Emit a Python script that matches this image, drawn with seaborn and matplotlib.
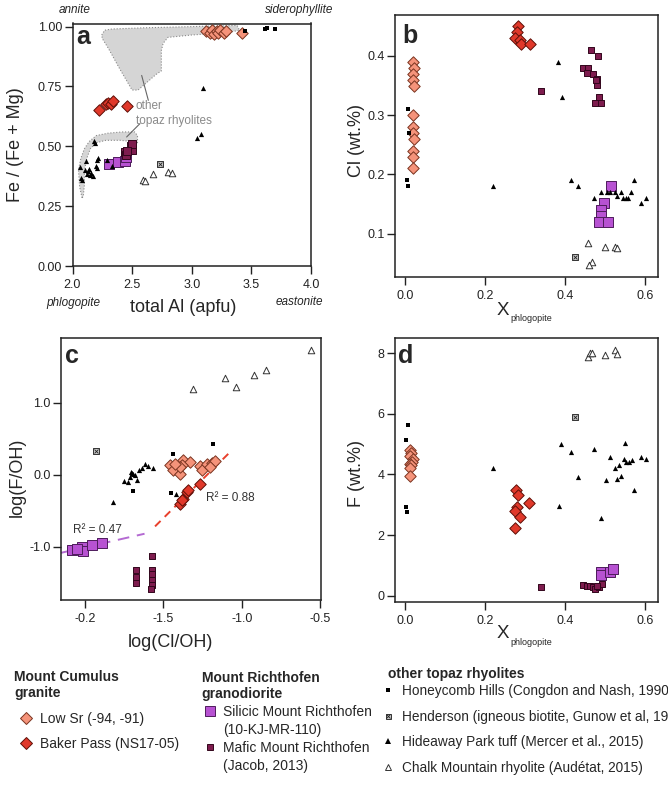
'''
mica chemistry, 4 panels (a-d) + legend
'''
import numpy as np
import pandas as pd
import matplotlib
matplotlib.use('Agg')
import matplotlib.pyplot as plt
from matplotlib.lines import Line2D
from matplotlib.ticker import FormatStrFormatter
import seaborn as sns

# ---------------- panel a : Fe/(Fe+Mg) vs total Al ----------------
a_lowsr_x = [3.12, 3.15, 3.17, 3.19, 3.21, 3.22, 3.24, 3.27, 3.29, 3.42]
a_lowsr_y = [0.98, 0.975, 0.985, 0.97, 0.98, 0.975, 0.985, 0.975, 0.98, 0.975]
a_baker_x = [2.22, 2.28, 2.30, 2.32, 2.34, 2.455]
a_baker_y = [0.65, 0.675, 0.68, 0.677, 0.688, 0.667]
a_sil_x = [2.31, 2.38, 2.44, 2.45]
a_sil_y = [0.425, 0.435, 0.44, 0.455]
a_maf_x = [2.44, 2.45, 2.49, 2.50, 2.50, 2.46]
a_maf_y = [0.475, 0.465, 0.50, 0.485, 0.51, 0.48]
a_honey_x = [3.447, 3.614, 3.628, 3.698]
a_honey_y = [0.98, 0.99, 0.993, 0.99]
a_hend_x = [2.73]
a_hend_y = [0.428]
a_hide_x = [2.063, 2.068, 2.077, 2.105, 2.113, 2.124, 2.133, 2.141, 2.147, 2.153, 2.18,
            2.191, 2.203, 2.208, 2.216, 2.197, 2.169, 2.287, 2.329, 3.097, 3.047, 3.08]
a_hide_y = [0.414, 0.367, 0.361, 0.40, 0.439, 0.386, 0.397, 0.406, 0.379, 0.388, 0.522,
            0.514, 0.442, 0.408, 0.45, 0.417, 0.375, 0.442, 0.419, 0.742, 0.535, 0.552]
a_chalk_x = [2.589, 2.608, 2.678, 2.803, 2.832]
a_chalk_y = [0.358, 0.356, 0.383, 0.393, 0.389]
# fields of other topaz rhyolites
field1_x = [2.245, 2.27, 2.33, 2.6, 3.0, 3.38, 3.40, 3.3, 3.0, 2.8, 2.76, 2.745, 2.745,
            2.70, 2.55, 2.50, 2.40, 2.30, 2.25]
field1_y = [0.965, 0.985, 0.99, 0.995, 1.0, 1.005, 0.985, 0.975, 0.965, 0.955, 0.93, 0.90,
            0.815, 0.80, 0.735, 0.735, 0.82, 0.91, 0.95]
field2_x = [2.08, 2.06, 2.05, 2.07, 2.10, 2.14, 2.20, 2.30, 2.42, 2.52, 2.545, 2.545, 2.50,
            2.40, 2.28, 2.20, 2.15, 2.12, 2.10, 2.10, 2.09]
field2_y = [0.285, 0.33, 0.40, 0.45, 0.49, 0.52, 0.545, 0.555, 0.56, 0.56, 0.545, 0.515,
            0.52, 0.525, 0.525, 0.515, 0.49, 0.45, 0.40, 0.34, 0.29]

# ---------------- panel b : Cl vs X phlogopite ----------------
b_lowsr_x = [0.02, 0.021, 0.02, 0.019, 0.021, 0.02, 0.019, 0.02, 0.021, 0.02, 0.019, 0.02]
b_lowsr_y = [0.39, 0.38, 0.37, 0.36, 0.35, 0.30, 0.28, 0.27, 0.26, 0.24, 0.23, 0.21]
b_baker_x = [0.282, 0.278, 0.274, 0.286, 0.29, 0.311]
b_baker_y = [0.451, 0.44, 0.43, 0.427, 0.42, 0.42]
b_sil_x = [0.515, 0.496, 0.488, 0.49, 0.484, 0.507]
b_sil_y = [0.18, 0.151, 0.14, 0.13, 0.12, 0.12]
b_maf_x = [0.465, 0.482, 0.444, 0.457, 0.453, 0.47, 0.478, 0.478, 0.484, 0.473, 0.49, 0.34, 0.476]
b_maf_y = [0.41, 0.40, 0.379, 0.379, 0.371, 0.37, 0.361, 0.351, 0.33, 0.32, 0.32, 0.34, 0.36]
b_honey_x = [0.006, 0.01, 0.005, 0.007]
b_honey_y = [0.31, 0.27, 0.19, 0.18]
b_hend_x = [0.425]
b_hend_y = [0.06]
b_hide_x = [0.382, 0.392, 0.22, 0.415, 0.432, 0.472, 0.488, 0.503, 0.512, 0.524, 0.54, 0.53,
            0.544, 0.552, 0.557, 0.565, 0.571, 0.59, 0.601]
b_hide_y = [0.39, 0.331, 0.181, 0.19, 0.18, 0.161, 0.171, 0.171, 0.171, 0.171, 0.171, 0.163,
            0.161, 0.161, 0.161, 0.171, 0.19, 0.151, 0.161]
b_chalk_x = [0.457, 0.523, 0.499, 0.529, 0.466, 0.46]
b_chalk_y = [0.085, 0.078, 0.077, 0.075, 0.053, 0.047]

# ---------------- panel c : log(F/OH) vs log(Cl/OH) ----------------
c_lowsr_x = [-1.457, -1.436, -1.394, -1.372, -1.33, -1.383, -1.266, -1.255, -1.223, -1.191,
             -1.17, -1.394, -1.426, -1.2]
c_lowsr_y = [0.13, 0.06, 0.014, 0.208, 0.176, 0.13, 0.116, 0.06, 0.153, 0.162, 0.185, 0.106,
             0.153, 0.106]
c_baker_x = [-1.394, -1.372, -1.351, -1.34, -1.266, -1.38]
c_baker_y = [-0.40, -0.333, -0.24, -0.218, -0.125, -0.356]
c_sil_x = [-2.085, -2.021, -2.01, -1.957, -1.894, -2.05]
c_sil_y = [-1.05, -1.005, -1.06, -0.972, -0.949, -1.03]
c_maf_x = [-1.674, -1.674, -1.674, -1.574, -1.574, -1.574, -1.574, -1.574, -1.58]
c_maf_y = [-1.32, -1.42, -1.505, -1.134, -1.32, -1.384, -1.458, -1.537, -1.588]
c_honey_x = [-1.18, -1.436, -1.453, -1.696]
c_honey_y = [0.43, 0.282, -0.255, -0.227]
c_hend_x = [-1.93]
c_hend_y = [0.329]
c_hide_x = [-1.823, -1.749, -1.723, -1.713, -1.702, -1.691, -1.68, -1.67, -1.653, -1.638,
            -1.617, -1.596, -1.564, -1.419, -1.708]
c_hide_y = [-0.38, -0.093, -0.102, -0.032, 0.023, 0.005, -0.009, -0.07, 0.06, 0.097, 0.153,
            0.116, 0.097, -0.264, 0.037]
c_chalk_x = [-1.309, -1.106, -1.036, -0.921, -0.845, -0.557]
c_chalk_y = [1.194, 1.347, 1.218, 1.38, 1.458, 1.727]
# regression lines
fit_baker_x = [-1.553, -1.074]
fit_baker_y = [-0.718, 0.315]
fit_sil_x = [-2.153, -1.62]
fit_sil_y = [-1.085, -0.82]
r2_baker = 0.88
r2_sil = 0.47
c_xticks = [-2.0, -1.5, -1.0, -0.5]
c_xlabels = ['-0.2', '-1.5', '-1.0', '-0.5']

# ---------------- panel d : F vs X phlogopite ----------------
d_lowsr_x = [0.013, 0.015, 0.012, 0.02, 0.018, 0.012, 0.015, 0.013, 0.012]
d_lowsr_y = [4.8, 4.7, 4.6, 4.5, 4.4, 4.35, 4.3, 4.2, 3.95]
d_baker_x = [0.277, 0.281, 0.279, 0.275, 0.309, 0.287, 0.274]
d_baker_y = [3.49, 3.32, 2.94, 2.8, 3.05, 2.61, 2.22]
d_sil_x = [0.488, 0.49, 0.512, 0.519]
d_sil_y = [0.79, 0.68, 0.79, 0.87]
d_maf_x = [0.338, 0.445, 0.455, 0.461, 0.47, 0.474, 0.483, 0.491, 0.478]
d_maf_y = [0.275, 0.35, 0.33, 0.32, 0.275, 0.21, 0.275, 0.385, 0.32]
d_honey_x = [0.008, 0.003, 0.002, 0.004]
d_honey_y = [5.63, 5.14, 2.94, 2.75]
d_hend_x = [0.425]
d_hend_y = [5.89]
d_hide_x = [0.218, 0.383, 0.39, 0.415, 0.432, 0.472, 0.488, 0.502, 0.512, 0.524, 0.53, 0.533,
            0.54, 0.55, 0.546, 0.552, 0.558, 0.566, 0.572, 0.59, 0.602]
d_hide_y = [4.2, 2.97, 5.0, 4.73, 3.93, 4.84, 2.55, 3.82, 4.57, 4.22, 3.85, 4.31, 3.95, 5.03,
            4.5, 4.42, 4.4, 4.48, 3.49, 4.59, 4.5]
d_chalk_x = [0.457, 0.461, 0.466, 0.499, 0.524, 0.528]
d_chalk_y = [7.89, 8.0, 8.0, 7.94, 8.11, 7.98]

# legend labels (the last column is shown as far as the page goes)
lab_lowsr = 'Low Sr (-94, -91)'
lab_baker = 'Baker Pass (NS17-05)'
lab_sil = ['Silicic Mount Richthofen', '(10-KJ-MR-110)']
lab_maf = ['Mafic Mount Richthofen', '(Jacob, 2013)']
lab_honey = 'Honeycomb Hills (Congdon and Nash, 1990'
lab_hend = 'Henderson (igneous biotite, Gunow et al, 19'
lab_hide = 'Hideaway Park tuff (Mercer et al., 2015)'
lab_chalk = 'Chalk Mountain rhyolite (Audétat, 2015)'

# ---------------- style ----------------
sns.set_theme(style='ticks')
plt.rcParams['font.family'] = ['Liberation Sans', 'DejaVu Sans']
plt.rcParams['axes.unicode_minus'] = False

STYLE = {
    'lowsr': dict(marker='D', face='#f5937a', edge='#7a3420', lw=0.7),
    'baker': dict(marker='D', face='#e0382a', edge='#5e1008', lw=0.7),
    'sil':   dict(marker='s', face='#b752d2', edge='#4e1c5c', lw=0.7),
    'maf':   dict(marker='s', face='#7e1c4e', edge='#32061c', lw=0.7),
    'honey': dict(marker='s', face='black', edge='black', lw=0),
    'hend':  dict(marker='s', face='#c8c8c8', edge='#333333', lw=0.7),
    'hide':  dict(marker='^', face='black', edge='black', lw=0),
    'chalk': dict(marker='^', face='white', edge='#333333', lw=0.7),
}
SIZE = {'lowsr': 34, 'baker': 34, 'sil': 50, 'maf': 20, 'honey': 9,
        'hend': 14, 'hide': 14, 'chalk': 22}


def dots(ax, x, y, kind, s=None):
    st = STYLE[kind]
    s = SIZE[kind] if s is None else s
    sns.scatterplot(x=x, y=y, ax=ax, marker=st['marker'], s=s, color=st['face'],
                    edgecolor=st['edge'], linewidth=st['lw'], legend=False, zorder=3)
    if kind == 'hend':
        sns.scatterplot(x=x, y=y, ax=ax, marker='x', s=s * 0.55, color='#222222',
                        linewidth=0.6, legend=False, zorder=4)


def frame(ax, letter, lx, ly):
    for sp in ax.spines.values():
        sp.set_visible(True)
        sp.set_color('#222222')
        sp.set_linewidth(1.1)
    ax.tick_params(direction='out', length=5.5, width=1, color='#222222',
                   labelsize=9, pad=2, labelcolor='#222222')
    ax.tick_params(axis='x', pad=4)
    ax.xaxis.label.set_va('center')
    ax.yaxis.label.set_va('center')
    ax.text(lx, ly, letter, transform=ax.transAxes, fontsize=18, fontweight='bold',
            va='baseline', ha='left')


W, H = 668, 786


def box(l, t, r, b):
    return [l / W, 1 - b / H, (r - l) / W, (b - t) / H]


fig = plt.figure(figsize=(6.68, 7.86), dpi=100)
ax_a = fig.add_axes(box(72.5, 23.5, 311, 266))
ax_b = fig.add_axes(box(395, 15, 658, 276.7))
ax_c = fig.add_axes(box(61, 338.3, 321, 600))
ax_d = fig.add_axes(box(395, 338.3, 658, 601.7))

# ---- a ----
ax = ax_a
ax.fill(field1_x, field1_y, facecolor='#d5d5d5', edgecolor='#8a8a8a', linestyle=':',
        linewidth=0.8, zorder=1)
ax.fill(field2_x, field2_y, facecolor='#d5d5d5', edgecolor='#8a8a8a', linestyle=':',
        linewidth=0.8, zorder=1)
ax.plot([2.58, 2.636], [0.796, 0.692], color='#666666', lw=0.8, zorder=2)
ax.plot([2.566, 2.454], [0.595, 0.539], color='#666666', lw=0.8, zorder=2)
ax.text(2.532, 0.638, 'other\ntopaz rhyolites', color='#8a8a8a', fontsize=8.5,
        ha='left', va='center', linespacing=1.35)
dots(ax, a_lowsr_x, a_lowsr_y, 'lowsr')
dots(ax, a_baker_x, a_baker_y, 'baker')
dots(ax, a_sil_x, a_sil_y, 'sil', 46)
dots(ax, a_maf_x, a_maf_y, 'maf', 40)
dots(ax, a_honey_x, a_honey_y, 'honey')
dots(ax, a_hend_x, a_hend_y, 'hend')
dots(ax, a_hide_x, a_hide_y, 'hide')
dots(ax, a_chalk_x, a_chalk_y, 'chalk')
ax.set_xlim(2, 4)
ax.set_ylim(0, 1.013)
ax.set_xticks([2.0, 2.5, 3.0, 3.5, 4.0])
ax.set_yticks([0, 0.25, 0.5, 0.75, 1.0])
ax.xaxis.set_major_formatter(FormatStrFormatter('%.1f'))
ax.yaxis.set_major_formatter(FormatStrFormatter('%.2f'))
ax.set_ylabel('Fe / (Fe + Mg)', fontsize=13)
ax.yaxis.set_label_coords(-0.241, 0.5)
ax.set_xlabel('total Al (apfu)', fontsize=13)
ax.xaxis.set_label_coords(0.463, -0.173)
frame(ax, 'a', 0.015, 0.915)
ax.text(0.01, 1.055, 'annite', transform=ax.transAxes, fontsize=8.5, style='italic',
        ha='center', va='center')
ax.text(0.95, 1.055, 'siderophyllite', transform=ax.transAxes, fontsize=8.5,
        style='italic', ha='center', va='center')
ax.text(0.003, -0.154, 'phlogopite', transform=ax.transAxes, fontsize=8.5,
        style='italic', ha='center', va='center')
ax.text(0.95, -0.148, 'eastonite', transform=ax.transAxes, fontsize=8.5,
        style='italic', ha='center', va='center')

# ---- b ----
ax = ax_b
dots(ax, b_lowsr_x, b_lowsr_y, 'lowsr')
dots(ax, b_baker_x, b_baker_y, 'baker')
dots(ax, b_sil_x, b_sil_y, 'sil')
dots(ax, b_maf_x, b_maf_y, 'maf')
dots(ax, b_honey_x, b_honey_y, 'honey')
dots(ax, b_hend_x, b_hend_y, 'hend')
dots(ax, b_hide_x, b_hide_y, 'hide')
dots(ax, b_chalk_x, b_chalk_y, 'chalk')
ax.set_xlim(-0.0257, 0.6316)
ax.set_ylim(0.0274, 0.469)
ax.set_xticks([0, 0.2, 0.4, 0.6])
ax.set_yticks([0.1, 0.2, 0.3, 0.4])
ax.xaxis.set_major_formatter(FormatStrFormatter('%.1f'))
ax.yaxis.set_major_formatter(FormatStrFormatter('%.1f'))
ax.set_ylabel('Cl (wt.%)', fontsize=13)
ax.yaxis.set_label_coords(-0.145, 0.52)
ax.set_xlabel('')
ax.text(0.411, -0.131, 'X', transform=ax.transAxes, fontsize=13.5, ha='center', va='center')
ax.text(0.437, -0.159, 'phlogopite', transform=ax.transAxes, fontsize=6.5, ha='left',
        va='center')
frame(ax, 'b', 0.029, 0.892)

# ---- c ----
ax = ax_c
sns.lineplot(x=fit_baker_x, y=fit_baker_y, ax=ax, color='#e8402c', lw=1.4,
             linestyle=(0, (4, 3)), zorder=2)
sns.lineplot(x=fit_sil_x, y=fit_sil_y, ax=ax, color='#b46ad2', lw=1.4,
             linestyle=(0, (6, 4)), zorder=2)
dots(ax, c_lowsr_x, c_lowsr_y, 'lowsr')
dots(ax, c_baker_x, c_baker_y, 'baker')
dots(ax, c_sil_x, c_sil_y, 'sil', 44)
dots(ax, c_maf_x, c_maf_y, 'maf')
dots(ax, c_honey_x, c_honey_y, 'honey')
dots(ax, c_hend_x, c_hend_y, 'hend')
dots(ax, c_hide_x, c_hide_y, 'hide')
dots(ax, c_chalk_x, c_chalk_y, 'chalk')
ax.text(-1.074, -0.328, 'R\u00b2 = {:.2f}'.format(r2_baker), fontsize=8.5, color='#333333',
        ha='center', va='center')
ax.text(-1.923, -0.768, 'R\u00b2 = {:.2f}'.format(r2_sil), fontsize=8.5, color='#333333',
        ha='center', va='center')
ax.set_xlim(-2.153, -0.494)
ax.set_ylim(-1.74, 1.894)
ax.set_xticks(c_xticks)
ax.set_xticklabels(c_xlabels)
ax.set_yticks([-1.0, 0.0, 1.0])
ax.yaxis.set_major_formatter(FormatStrFormatter('%.1f'))
ax.set_ylabel('log(F/OH)', fontsize=13)
ax.yaxis.set_label_coords(-0.17, 0.47)
ax.set_xlabel('log(Cl/OH)', fontsize=13)
ax.xaxis.set_label_coords(0.419, -0.164)
frame(ax, 'c', 0.015, 0.904)

# ---- d ----
ax = ax_d
dots(ax, d_lowsr_x, d_lowsr_y, 'lowsr')
dots(ax, d_baker_x, d_baker_y, 'baker')
dots(ax, d_sil_x, d_sil_y, 'sil')
dots(ax, d_maf_x, d_maf_y, 'maf')
dots(ax, d_honey_x, d_honey_y, 'honey')
dots(ax, d_hend_x, d_hend_y, 'hend')
dots(ax, d_hide_x, d_hide_y, 'hide')
dots(ax, d_chalk_x, d_chalk_y, 'chalk')
ax.set_xlim(-0.0257, 0.6316)
ax.set_ylim(-0.198, 8.495)
ax.set_xticks([0, 0.2, 0.4, 0.6])
ax.set_yticks([0, 2, 4, 6, 8])
ax.xaxis.set_major_formatter(FormatStrFormatter('%.1f'))
ax.set_ylabel('F (wt.%)', fontsize=13)
ax.yaxis.set_label_coords(-0.145, 0.487)
ax.set_xlabel('')
ax.text(0.411, -0.12, 'X', transform=ax.transAxes, fontsize=13.5, ha='center', va='center')
ax.text(0.437, -0.156, 'phlogopite', transform=ax.transAxes, fontsize=6.5, ha='left',
        va='center')
frame(ax, 'd', 0.0125, 0.905)


# ---------------- legend ----------------
def handle(kind, ms):
    st = STYLE[kind]
    return Line2D([], [], linestyle='none', marker=st['marker'], markersize=ms,
                  markerfacecolor=st['face'], markeredgecolor=st['edge'],
                  markeredgewidth=st['lw'])


blank = Line2D([], [], linestyle='none', marker='')
hend_x = Line2D([], [], linestyle='none', marker='x', markersize=2.6,
                markeredgecolor='#222222', markeredgewidth=0.6)

leg_kw = dict(loc='upper left', frameon=False, alignment='left', fontsize=10,
              borderpad=0, borderaxespad=0, title_fontproperties={'weight': 'bold', 'size': 10})

leg1 = fig.legend(handles=[handle('lowsr', 6.3), handle('baker', 6.3)],
                  labels=[lab_lowsr, lab_baker], title='Mount Cumulus\ngranite',
                  bbox_to_anchor=(14 / W, 1 - 670 / H), handlelength=1.7,
                  handletextpad=0.15, labelspacing=0.82, **leg_kw)
leg2 = fig.legend(handles=[handle('sil', 6.5), blank, handle('maf', 4.2), blank],
                  labels=lab_sil + lab_maf, title='Mount Richthofen\ngranodiorite',
                  bbox_to_anchor=(201.7 / W, 1 - 671 / H), handlelength=1.2,
                  handletextpad=0.32, labelspacing=0.28, **leg_kw)
leg_kw.pop('title_fontproperties')
leg_kw['fontsize'] = 9.8
leg3 = fig.legend(handles=[handle('honey', 3), (handle('hend', 3.6), hend_x),
                           handle('hide', 3.8), handle('chalk', 4.4)],
                  labels=[lab_honey, lab_hend, lab_hide, lab_chalk],
                  bbox_to_anchor=(387.5 / W, 1 - 684 / H), handlelength=0.1,
                  handletextpad=1.0, labelspacing=0.85, **leg_kw)
fig.text(388.3 / W, 1 - 674 / H, 'other topaz rhyolites', fontsize=10, fontweight='bold',
         ha='left', va='center')

fig.savefig('out.png', dpi=100)
